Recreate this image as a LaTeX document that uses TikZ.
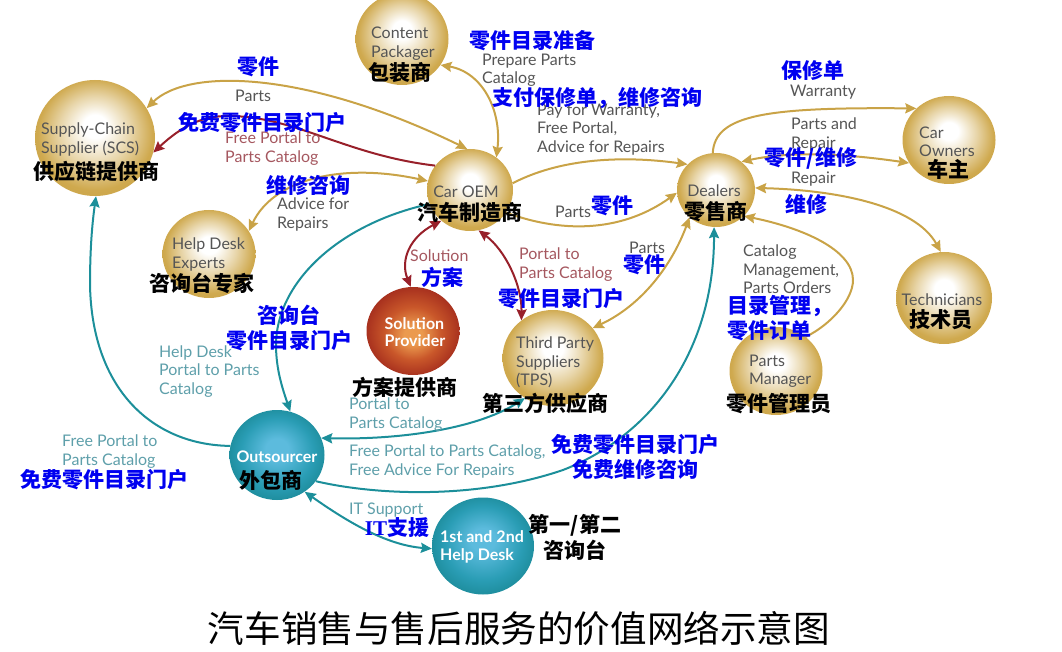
\documentclass[tikz,border=0pt]{standalone}
\usepackage{fontspec}
\setmainfont{Lato}
\newfontfamily\cjk{Noto Sans CJK SC}
\newfontfamily\serifb{Liberation Serif}
\usetikzlibrary{arrows.meta,shapes.geometric}
\definecolor{goldc}{HTML}{C9A347}
\definecolor{goldedge}{HTML}{CFA94E}
\definecolor{redc}{HTML}{98202A}
\definecolor{tealc}{HTML}{1C8F9A}
\definecolor{engray}{HTML}{555555}
\definecolor{enred}{HTML}{A5575F}
\definecolor{enteal}{HTML}{5E9FAA}
\definecolor{cnblue}{HTML}{0000F0}
\definecolor{tealhi}{HTML}{5CBBDD}
\definecolor{tealmid}{HTML}{2A9DB5}
\definecolor{tealout}{HTML}{17848F}
\definecolor{rusthi}{HTML}{EB9A4E}
\definecolor{rustmid}{HTML}{C9572A}
\definecolor{rustout}{HTML}{A22A1C}
\pgfdeclareradialshading{goldball}{\pgfpoint{0bp}{6bp}}{color(0bp)=(white);color(5bp)=(white);color(15bp)=(goldedge!50!white);color(24bp)=(goldedge);color(32bp)=(goldc)}
\pgfdeclareradialshading{tealball}{\pgfpoint{0bp}{4bp}}{color(0bp)=(tealhi);color(6bp)=(tealhi);color(19bp)=(tealmid);color(30bp)=(tealout)}
\pgfdeclareradialshading{rustball}{\pgfpoint{0bp}{-3bp}}{color(0bp)=(rusthi);color(5bp)=(rusthi);color(15bp)=(rustmid);color(27bp)=(rustout)}
\tikzset{
  x=1pt,y=-1pt,
  ball/.style={ellipse,inner sep=0pt,minimum width=#1},
  gold/.style={shading=goldball},
  teal/.style={shading=tealball},
  rust/.style={shading=rustball},
  link/.style={line width=2pt,draw=#1,-{Stealth[length=11pt,width=10pt,inset=1.5pt]}},
  both/.style={line width=2pt,draw=#1,{Stealth[length=11pt,width=10pt,inset=1.5pt]}-{Stealth[length=11pt,width=10pt,inset=1.5pt]}},
  en/.style={inner sep=0pt,align=left,anchor=west,yshift=-1.5pt,text=engray,font=\fontsize{16}{18.4}\selectfont},
  enr/.style={en,text=enred},
  ent/.style={en,text=enteal},
  enw/.style={inner sep=0pt,align=left,yshift=-1pt,text=white,font=\fontsize{16}{17.5}\selectfont\bfseries},
  blue/.style={inner sep=0pt,align=center,yshift=-1pt,text=cnblue,font=\cjk\bfseries\fontsize{21}{25}\selectfont},
  blk/.style={inner sep=0pt,align=center,yshift=-1pt,text=black,font=\cjk\bfseries\fontsize{21}{26}\selectfont},
}
\begin{document}
\begin{tikzpicture}
\useasboundingbox (0,0) rectangle (1062,652);
% balls
\node[ball=93pt,minimum height=92pt,gold] (content) at (402,39) {};
\node[ball=120pt,minimum height=116pt,gold] (scs) at (95,138) {};
\node[ball=93pt,minimum height=88pt,gold] (help) at (209,254) {};
\node[ball=86pt,minimum height=82pt,gold] (oem) at (470,190) {};
\node[ball=93pt,minimum height=88pt,rust] (sol) at (413,331) {};
\node[ball=101pt,minimum height=96pt,gold] (tps) at (553,358) {};
\node[ball=93pt,minimum height=88pt,gold] (pm) at (776,371) {};
\node[ball=78pt,minimum height=74pt,gold] (dealers) at (716,190) {};
\node[ball=93pt,minimum height=88pt,gold] (owners) at (949,140) {};
\node[ball=96pt,minimum height=92pt,gold] (tech) at (944,298) {};
\node[ball=95pt,minimum height=90pt,teal] (outs) at (277,455) {};
\node[ball=102pt,minimum height=97pt,teal] (first) at (483,546) {};
% connectors
\draw[both=goldc] (scs.30) .. controls (188,68) and (305,70) .. (oem.94);
\draw[link=redc] (oem.145) .. controls (345,155) and (295,116) .. (228,116) .. controls (203,116) and (183,125) .. (scs.-14);
\draw[both=goldc] (oem.168) .. controls (340,162) and (273,180) .. (help.30);
\draw[both=goldc] (content.-34) .. controls (482,72) and (502,110) .. (oem.51);
\draw[link=goldc] (oem.9) .. controls (567,155) and (635,157) .. (dealers.138);
\draw[link=goldc] (oem.-32) .. controls (567,235) and (625,230) .. (dealers.184);
\draw[link=tealc] (oem.199) .. controls (335,225) and (276,285) .. (276,345) .. controls (276,370) and (283,390) .. (outs.73);
\draw[both=redc] (oem.227) .. controls (410,237) and (400,260) .. (sol.93);
\draw[both=redc] (oem.-78) .. controls (505,250) and (522,285) .. (tps.130);
\draw[both=goldc] (tps.37) .. controls (642,305) and (672,265) .. (dealers.226);
\draw[link=goldc] (pm.49) .. controls (830,325) and (853,300) .. (853,280) .. controls (853,250) and (803,228) .. (dealers.-43);
\draw[link=tealc] (outs.-34) .. controls (375,495) and (475,500) .. (563,470) .. controls (653,435) and (714,350) .. (dealers.267);
\draw[both=tealc] (outs.21) .. controls (395,440) and (475,430) .. (tps.235);
\draw[link=tealc] (outs.169) .. controls (153,445) and (92,390) .. (90,285) .. controls (90,250) and (92,225) .. (scs.-89);
\draw[both=tealc] (outs.-53) .. controls (345,520) and (385,545) .. (first.183);
\draw[link=goldc] (dealers.95) .. controls (715,115) and (765,107) .. (owners.136);
\draw[both=goldc] (dealers.48) .. controls (795,150) and (855,155) .. (owners.210);
\draw[both=goldc] (dealers.3) .. controls (835,190) and (915,205) .. (tech.94);
% English labels
\node[en] (e1) at (371,42) {Content\\Packager};
\node[en] (e2) at (41,138) {Supply-Chain\\Supplier (SCS)};
\node[en] (e3) at (235,94) {Parts};
\node[enr] (e4) at (225,147) {Free Portal to\\Parts Catalog};
\node[en] (e5) at (277,213) {Advice for\\Repairs};
\node[en] (e6) at (172,253) {Help Desk\\Experts};
\node[en,anchor=center] (e7) at (466,190) {Car OEM};
\node[en] (e8) at (482,69) {Prepare Parts\\Catalog};
\node[en] (e9) at (537,128) {Pay for Warranty,\\Free Portal,\\Advice for Repairs};
\node[en] (e10) at (790,91) {Warranty};
\node[en] (e11) at (791,133) {Parts and\\Repair};
\node[en] (e12) at (791,178) {Repair};
\node[en] (e13) at (555,210) {Parts};
\node[en,anchor=center] (e14) at (714,189) {Dealers};
\node[en] (e15) at (919,140) {Car\\Owners};
\node[en,anchor=center] (e16) at (942,298) {Technicians};
\node[en] (e17) at (629,246) {Parts};
\node[enr] (e18) at (519,263) {Portal to\\Parts Catalog};
\node[enr] (e19) at (410,254) {Solution};
\node[en] (e20) at (743,268) {Catalog\\Management,\\Parts Orders};
\node[en] (e21) at (516,361) {Third Party\\Suppliers\\(TPS)};
\node[en] (e22) at (749,370) {Parts\\Manager};
\node[ent] (e23) at (159,370) {Help Desk\\Portal to Parts\\Catalog};
\node[ent] (e24) at (349,413) {Portal to\\Parts Catalog};
\node[ent] (e25) at (349,460) {Free Portal to Parts Catalog,\\Free Advice For Repairs};
\node[ent] (e26) at (62,450) {Free Portal to\\Parts Catalog};
\node[enw] (e27) at (277,456) {Outsourcer};
\node[ent] (e28) at (349,509) {IT Support};
\node[enw] (e29) at (482,546) {1st and 2nd\\Help Desk};
\node[enw] (e30) at (415,331) {Solution\\Provider};
% blue Chinese labels
\node[blue] (c1) at (258,66) {零件};
\node[blue] (c2) at (262,122) {免费零件目录门户};
\node[blue] (c3) at (532,40) {零件目录准备};
\node[blue] (c4) at (597,97) {支付保修单，维修咨询};
\node[blue] (c5) at (813,70) {保修单};
\node[blue] (c6) at (811,157) {零件/维修};
\node[blue] (c7) at (806,203) {维修};
\node[blue] (c8) at (308,184) {维修咨询};
\node[blue] (c9) at (612,205) {零件};
\node[blue] (c10) at (644,264) {零件};
\node[blue] (c11) at (442,276) {方案};
\node[blue] (c12) at (561,298) {零件目录门户};
\node[blue] (c13) at (289,327) {咨询台\\零件目录门户};
\node[blue,align=left,anchor=west] (c14) at (727,317) {目录管理，\\零件订单};
\node[blue] (c15) at (635,456) {免费零件目录门户\\免费维修咨询};
\node[blue] (c16) at (104,479) {免费零件目录门户};
\node[blue] (c17) at (397,527) {{\serifb\bfseries IT}支援};
% black Chinese labels
\node[blk] (k1) at (400,72) {包装商};
\node[blk] (k2) at (96,170) {供应链提供商};
\node[blk] (k3) at (202,282) {咨询台专家};
\node[blk] (k4) at (470,211) {汽车制造商};
\node[blk] (k5) at (716,211) {零售商};
\node[blk] (k6) at (948,168) {车主};
\node[blk] (k7) at (941,319) {技术员};
\node[blk] (k8) at (405,386) {方案提供商};
\node[blk] (k9) at (545,402) {第三方供应商};
\node[blk] (k10) at (779,403) {零件管理员};
\node[blk] (k11) at (271,479) {外包商};
\node[blk] (k12) at (575,536) {第一/第二\\咨询台};
\node[inner sep=0pt,text=black,font=\cjk\fontsize{36.6}{40}\selectfont] (title) at (519,628) {汽车销售与售后服务的价值网络示意图};
\end{tikzpicture}
\end{document}
